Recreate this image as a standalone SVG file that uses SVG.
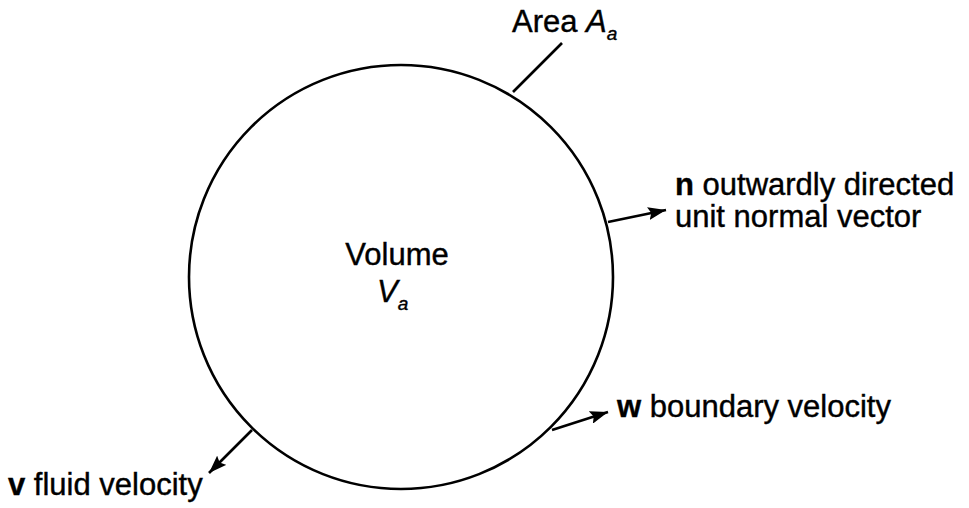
<svg xmlns="http://www.w3.org/2000/svg" width="969" height="508" viewBox="0 0 969 508">
<defs>
<style>
.t{font-family:"Liberation Sans",Arial,sans-serif;font-size:31px;fill:#000;stroke:#000;stroke-width:0.4}
.s{font-size:19px;font-style:italic}
.i{font-style:italic}
.b{font-weight:bold}
.ln{stroke:#000;stroke-width:2.6;fill:none}
</style>
<marker id="ah" viewBox="0 0 18 13" refX="18" refY="6.5" markerWidth="18" markerHeight="13" markerUnits="userSpaceOnUse" orient="auto">
<path d="M0,0 L18,6.5 L0,13 L3,6.5 Z" fill="#000"/>
</marker>
</defs>
<rect width="969" height="508" fill="#fff"/>
<g id="volume">
<circle cx="401" cy="277" r="212" class="ln" stroke-width="2.4"/>
<text class="t" x="397" y="265" text-anchor="middle">Volume</text>
<text class="t" x="377" y="302"><tspan class="i">V</tspan><tspan class="s" dy="8">a</tspan></text>
</g>
<g id="area-label">
<text class="t" x="512" y="32">Area <tspan class="i">A</tspan><tspan class="s" dy="8">a</tspan></text>
</g>
<g id="n-label">
<text class="t" x="675" y="195"><tspan class="b">n</tspan> outwardly directed</text>
<text class="t" x="675" y="227">unit normal vector</text>
</g>
<g id="w-label">
<text class="t" x="617" y="417"><tspan class="b">w</tspan> boundary velocity</text>
</g>
<g id="v-label">
<text class="t" x="8" y="495"><tspan class="b">v</tspan> fluid velocity</text>
</g>
<g id="connectors">
<line class="ln" x1="562" y1="43" x2="513" y2="92"/>
<line class="ln" x1="608" y1="222" x2="666" y2="210" marker-end="url(#ah)"/>
<line class="ln" x1="552" y1="430" x2="608" y2="412" marker-end="url(#ah)"/>
<line class="ln" x1="252" y1="430" x2="209" y2="473" marker-end="url(#ah)"/>
</g>
</svg>
